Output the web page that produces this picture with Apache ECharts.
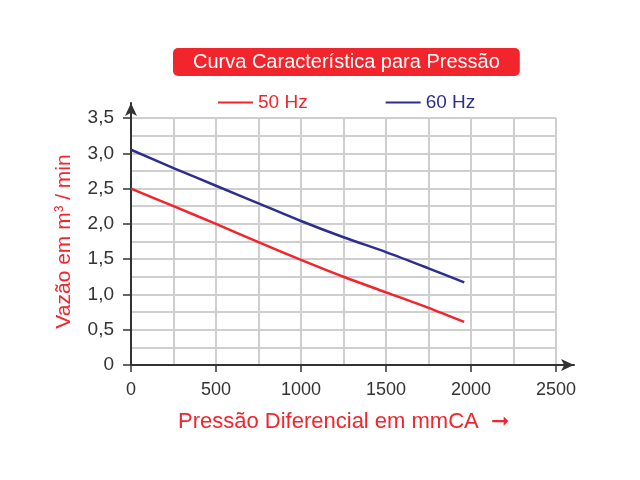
<!DOCTYPE html>
<html>
<head>
<meta charset="utf-8">
<script src="https://cdn.jsdelivr.net/npm/echarts@6/dist/echarts.min.js"></script>
<style>
    html, body { margin: 0; padding: 0; background: #fff; }
    #chart { width: 640px; height: 480px; }
</style>
</head>
<body>
<div id="chart"></div>
<script>
// valores
const pressure = [0, 250, 500, 750, 1000, 1250, 1500, 1750, 1960];
const flow50 = [2.5, 2.25, 2.0, 1.74, 1.49, 1.25, 1.03, 0.81, 0.61];
const flow60 = [3.05, 2.79, 2.54, 2.29, 2.04, 1.81, 1.60, 1.37, 1.17];
const seriesNames = ['50 Hz', '60 Hz'];

const RED = '#f2242c';
const BLUE = '#2d2f8e';
const FONT = 'Liberation Sans, Arial, sans-serif';

function pairs(xs, ys) {
    return xs.map((x, i) => [x, ys[i]]);
}

window.onload = function () {
    let myChart = echarts.init(document.querySelector('#chart'));
    let arrowLine = {
        show: true,
        symbol: ['none', 'arrow'],
        symbolSize: [9, 13],
        lineStyle: { color: '#333', width: 2 }
    };
    let option = {
        backgroundColor: '#fff',
        textStyle: { fontFamily: FONT },
        title: {
            text: 'Curva Característica para Pressão',
            left: 173,
            top: 48,
            padding: [4, 20, 4, 20],
            backgroundColor: RED,
            borderRadius: 5,
            textStyle: { color: '#fff', fontSize: 20, fontWeight: 'normal', fontFamily: FONT }
        },
        legend: {
            left: 213,
            top: 88,
            icon: 'rect',
            itemWidth: 35,
            itemHeight: 2,
            itemGap: 78,
            textStyle: { fontSize: 19, fontFamily: FONT },
            data: [
                { name: seriesNames[0], textStyle: { color: RED } },
                { name: seriesNames[1], textStyle: { color: BLUE } }
            ]
        },
        grid: [
            { left: 131, right: 84, top: 118, bottom: 115 },
            // só para as linhas dos eixos com seta
            { left: 131, right: 66, top: 103, bottom: 115 }
        ],
        xAxis: [{
            type: 'value',
            gridIndex: 0,
            min: 0,
            max: 2500,
            interval: 500,
            name: 'Pressão Diferencial em mmCA  {arr|➞}',
            nameLocation: 'middle',
            nameGap: 46,
            nameTextStyle: {
                color: RED, fontSize: 22, fontFamily: FONT,
                rich: { arr: { color: RED, fontSize: 22 } }
            },
            axisLine: { show: false },
            axisTick: { show: true, length: 7, lineStyle: { color: '#333', width: 1.5 } },
            axisLabel: { color: '#333', fontSize: 18, margin: 16, formatter: v => String(v) },
            splitLine: { show: true, lineStyle: { color: '#cfcfcf', width: 2 } },
            minorTick: { show: false, splitNumber: 2 },
            minorSplitLine: { show: true, lineStyle: { color: '#cfcfcf', width: 2 } }
        }, {
            type: 'value',
            gridIndex: 1,
            min: 0,
            max: 1,
            axisLine: arrowLine,
            axisTick: { show: false },
            axisLabel: { show: false },
            splitLine: { show: false }
        }],
        yAxis: [{
            type: 'value',
            gridIndex: 0,
            min: 0,
            max: 3.5,
            interval: 0.5,
            name: 'Vazão em m{sup|3} / min',
            nameLocation: 'middle',
            nameGap: 56,
            nameTextStyle: {
                color: RED, fontSize: 21, fontFamily: FONT,
                rich: { sup: { color: RED, fontSize: 12, verticalAlign: 'bottom', padding: [0, 0, 9, 0] } }
            },
            axisLine: { show: false },
            axisTick: { show: true, length: 8, lineStyle: { color: '#333', width: 1.5 } },
            axisLabel: {
                color: '#333',
                fontSize: 19,
                margin: 17,
                formatter: v => v === 0 ? '0' : v.toFixed(1).replace('.', ',')
            },
            splitLine: { show: true, lineStyle: { color: '#cfcfcf', width: 2 } },
            minorTick: { show: false, splitNumber: 2 },
            minorSplitLine: { show: true, lineStyle: { color: '#cfcfcf', width: 2 } }
        }, {
            type: 'value',
            gridIndex: 1,
            min: 0,
            max: 1,
            axisLine: arrowLine,
            axisTick: { show: false },
            axisLabel: { show: false },
            splitLine: { show: false }
        }],
        series: [{
            name: seriesNames[0],
            type: 'line',
            smooth: 0.3,
            showSymbol: false,
            color: RED,
            lineStyle: { color: RED, width: 2.5 },
            data: pairs(pressure, flow50)
        }, {
            name: seriesNames[1],
            type: 'line',
            smooth: 0.3,
            showSymbol: false,
            color: BLUE,
            lineStyle: { color: BLUE, width: 2.5 },
            data: pairs(pressure, flow60)
        }]
    };
    myChart.setOption(option);
}
</script>
</body>
</html>
